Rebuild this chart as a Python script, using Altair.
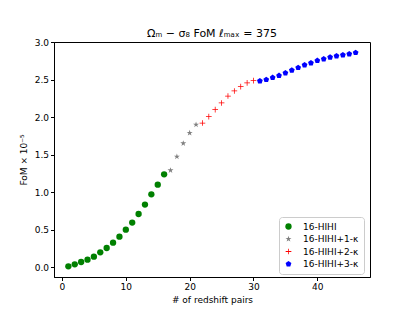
import altair as alt
import pandas as pd

green_x = list(range(1, 17))
green_y = [0.013, 0.040, 0.071, 0.102, 0.142, 0.200, 0.258, 0.329, 0.409, 0.502,
           0.596, 0.711, 0.836, 0.973, 1.102, 1.240]
grey_x = list(range(17, 22))
grey_y = [1.293, 1.476, 1.653, 1.791, 1.902]
red_x = list(range(22, 31))
red_y = [1.924, 2.009, 2.102, 2.191, 2.284, 2.351, 2.409, 2.458, 2.489]
blue_x = list(range(31, 47))
blue_y = [2.484, 2.502, 2.529, 2.556, 2.591, 2.627, 2.662, 2.698, 2.724, 2.756,
          2.778, 2.800, 2.818, 2.831, 2.844, 2.862]

series = ["16-HIHI", "16-HIHI+1-κ", "16-HIHI+2-κ", "16-HIHI+3-κ"]
colors = ["#008000", "#808080", "#ff0000", "#0000ff"]

star = ("M0,-1L0.2245,-0.309L0.951,-0.309L0.363,0.118L0.588,0.809L0,0.382"
        "L-0.588,0.809L-0.363,0.118L-0.951,-0.309L-0.2245,-0.309Z")
plus = ("M-0.9,-0.12H-0.12V-0.9H0.12V-0.12H0.9V0.12H0.12V0.9H-0.12V0.12H-0.9Z")
pent = "M0,-0.95L0.904,-0.294L0.559,0.769L-0.559,0.769L-0.904,-0.294Z"
shapes = ["circle", star, plus, pent]

rows = []
for xs, ys, s in [(green_x, green_y, series[0]), (grey_x, grey_y, series[1]),
                  (red_x, red_y, series[2]), (blue_x, blue_y, series[3])]:
    for a, b in zip(xs, ys):
        rows.append({"x": a, "y": b, "series": s})
df = pd.DataFrame(rows)

chart = alt.Chart(df).mark_point(filled=True, opacity=1, size=40, strokeWidth=0).encode(
    x=alt.X("x:Q", scale=alt.Scale(domain=[-1.25, 48.25], nice=False, zero=False),
            axis=alt.Axis(values=[0, 10, 20, 30, 40], title="# of redshift pairs",
                          format="d")),
    y=alt.Y("y:Q", scale=alt.Scale(domain=[-0.129, 3.004], nice=False, zero=False),
            axis=alt.Axis(values=[0, 0.5, 1, 1.5, 2, 2.5, 3], format=".1f",
                          title="FoM × 10⁻⁵")),
    color=alt.Color("series:N", scale=alt.Scale(domain=series, range=colors),
                    legend=alt.Legend(title=None, orient="none", legendX=225, legendY=175)),
    shape=alt.Shape("series:N", scale=alt.Scale(domain=series, range=shapes)),
).properties(
    width=316, height=235,
    title=alt.TitleParams("Ωₘ − σ₈ FoM ℓₘₐₓ = 375", fontSize=11, fontWeight="normal",
                          font="DejaVu Sans", color="black", frame="group", anchor="middle",
                          offset=-1),
    autosize=alt.AutoSizeParams(type="none"),
    padding={"left": 46, "top": 34, "right": 30, "bottom": 30},
).configure_view(
    stroke="black", strokeWidth=1
).configure_axis(
    grid=False, domainColor="black", tickColor="black", tickSize=3.5,
    labelFont="DejaVu Sans", labelFontSize=9, labelColor="black",
    titleFont="DejaVu Sans", titleFontSize=9, titleFontWeight="normal", titleColor="black",
    labelPadding=2,
).configure_axisX(titlePadding=4).configure_axisY(titlePadding=6).configure_legend(
    labelFont="DejaVu Sans", labelFontSize=9, labelColor="black",
    strokeColor="#cccccc", fillColor="white", cornerRadius=3, padding=5,
    rowPadding=2.5, symbolSize=40, symbolStrokeWidth=0, labelOffset=10,
)

chart.save("out.html", embed_options={"renderer": "svg", "actions": False})
